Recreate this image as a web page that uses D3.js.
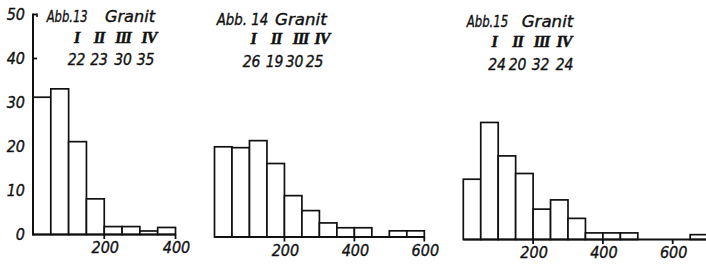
<!DOCTYPE html>
<html>
<head>
<meta charset="utf-8">
<script src="https://cdn.jsdelivr.net/npm/d3@7"></script>
<style>
  html, body { margin: 0; padding: 0; background: #fff; }
  svg { display: block; }
  text { font-family: "DejaVu Sans Condensed", "DejaVu Sans", sans-serif; font-stretch: condensed; font-style: italic; fill: #111; stroke: #111; stroke-width: 0.35; white-space: pre; }
  text.num { font-family: "Liberation Serif", serif; font-stretch: normal; font-weight: bold; stroke-width: 0.5; }
</style>
</head>
<body>
<svg id="chart" width="706" height="264"></svg>
<script>
// ---- data ----
const binWidth = 50;
const titles = [["Abb.13", "Granit"], ["Abb. 14", "Granit"], ["Abb.15", "Granit"]];
const numerals = ["I", "II", "III", "IV"];
const counts13 = [22, 23, 30, 35];
const counts14 = [26, 19, 30, 25];
const counts15 = [24, 20, 32, 24];
const abb13 = [31.2, 33.1, 21.1, 8.1, 1.8, 1.8, 0.8, 1.6];
const abb14 = [20.5, 20.3, 21.9, 16.7, 9.4, 6.0, 3.2, 2.1, 2.1, 0, 1.4, 1.4];
const abb15 = [13.7, 26.6, 19.0, 15.0, 6.9, 9.0, 4.8, 1.5, 1.5, 1.5, 0, 0, 0, 1.1];
const yTicks = [0, 10, 20, 30, 40, 50];
const xTicks13 = [200, 400];
const xTicks14 = [200, 400, 600];
const xTicks15 = [200, 400, 600];

// ---- layout ----
const panels = [
  { title: titles[0], values: abb13, counts: counts13, xTicks: xTicks13, axisMax: 400,
    x0: 33, x600: 33 + 142.5 * 1.5, base: 234.5, yAxis: true,
    titleX: [46.7, 105], titleLen: [41, 50], titleY: 21.5,
    numX: [76.5, 99, 123, 149], numY: 42.5, cntX: [76.5, 99, 123, 145.5], cntY: 64.5 },
  { title: titles[1], values: abb14, counts: counts14, xTicks: xTicks14, axisMax: 600,
    x0: 214.5, x600: 424.3, base: 237, yAxis: false,
    titleX: [216.7, 275], titleLen: [51.6, 51.7], titleY: 24.5,
    numX: [253, 276, 300.5, 322], numY: 44, cntX: [251.5, 274.5, 294.5, 314.5], cntY: 66.5 },
  { title: titles[2], values: abb15, counts: counts15, xTicks: xTicks15, axisMax: 740,
    x0: 463.3, x600: 672.7, base: 239.5, yAxis: false,
    titleX: [466.7, 521.7], titleLen: [41.6, 51.6], titleY: 26.5,
    numX: [494, 517.5, 541.5, 564], numY: 46.5, cntX: [497, 517.5, 540.5, 564.5], cntY: 69.5 }
];
const pxPerUnit = 4.4;

const svg = d3.select("#chart");

panels.forEach(p => {
  const x = d3.scaleLinear().domain([0, 600]).range([p.x0, p.x600]);
  const y = d3.scaleLinear().domain([0, 50]).range([p.base, p.base - 50 * pxPerUnit]);
  const g = svg.append("g");

  // bars
  g.selectAll("rect.bar")
    .data(p.values.map((v, i) => ({ v, i })).filter(d => d.v > 0))
    .join("rect")
    .attr("class", "bar")
    .attr("x", d => x(d.i * binWidth))
    .attr("width", x(binWidth) - x(0))
    .attr("y", d => y(d.v))
    .attr("height", d => y(0) - y(d.v))
    .attr("fill", "#fff")
    .attr("stroke", "#111")
    .attr("stroke-width", 1.7);

  // x axis line
  g.append("line")
    .attr("x1", x(0)).attr("x2", x(p.axisMax))
    .attr("y1", y(0)).attr("y2", y(0))
    .attr("stroke", "#111").attr("stroke-width", 2);

  // x ticks
  g.selectAll("line.xt").data(p.xTicks).join("line")
    .attr("class", "xt")
    .attr("x1", d => x(d)).attr("x2", d => x(d))
    .attr("y1", y(0)).attr("y2", y(0) + 4.5)
    .attr("stroke", "#111").attr("stroke-width", 1.8);

  g.selectAll("text.xl").data(p.xTicks).join("text")
    .attr("class", "xl")
    .attr("x", d => x(d) + 1)
    .attr("y", y(0) + 18.5)
    .attr("text-anchor", "middle")
    .attr("font-size", 16)
    .text(d => d);

  // y axis (first panel only)
  if (p.yAxis) {
    g.append("line")
      .attr("x1", x(0)).attr("x2", x(0))
      .attr("y1", y(50) - 1).attr("y2", y(0) + 1)
      .attr("stroke", "#111").attr("stroke-width", 2);
    const firstBar = p.values[0];
    g.selectAll("line.yt").data(yTicks.filter(t => t > firstBar)).join("line")
      .attr("class", "yt")
      .attr("x1", x(0)).attr("x2", x(0) + 4)
      .attr("y1", d => y(d)).attr("y2", d => y(d))
      .attr("stroke", "#111").attr("stroke-width", 1.8);
    g.append("line")
      .attr("x1", x(0) + 4).attr("x2", x(0) + 4)
      .attr("y1", y(50) - 0.9).attr("y2", y(50) + 2.5)
      .attr("stroke", "#111").attr("stroke-width", 1.6);
    g.selectAll("text.yl").data(yTicks).join("text")
      .attr("class", "yl")
      .attr("x", x(0) - 8)
      .attr("y", d => y(d) + 5.5)
      .attr("text-anchor", "end")
      .attr("font-size", 16)
      .text(d => d);
  }

  // titles (two words placed as in the original lettering)
  p.title.forEach((s, i) => {
    g.append("text")
      .attr("x", p.titleX[i])
      .attr("y", p.titleY)
      .attr("font-size", 15.5)
      .attr("textLength", p.titleLen[i])
      .attr("lengthAdjust", "spacingAndGlyphs")
      .text(s);
  });

  g.selectAll("text.num").data(numerals).join("text")
    .attr("class", "num")
    .attr("x", (d, i) => p.numX[i]).attr("y", p.numY)
    .attr("text-anchor", "middle")
    .attr("font-size", 16)
    .attr("letter-spacing", -1)
    .text(d => d);

  g.selectAll("text.cnt").data(p.counts).join("text")
    .attr("class", "cnt")
    .attr("x", (d, i) => p.cntX[i]).attr("y", p.cntY)
    .attr("text-anchor", "middle")
    .attr("font-size", 15.5)
    .text(d => d);
});
</script>
</body>
</html>
